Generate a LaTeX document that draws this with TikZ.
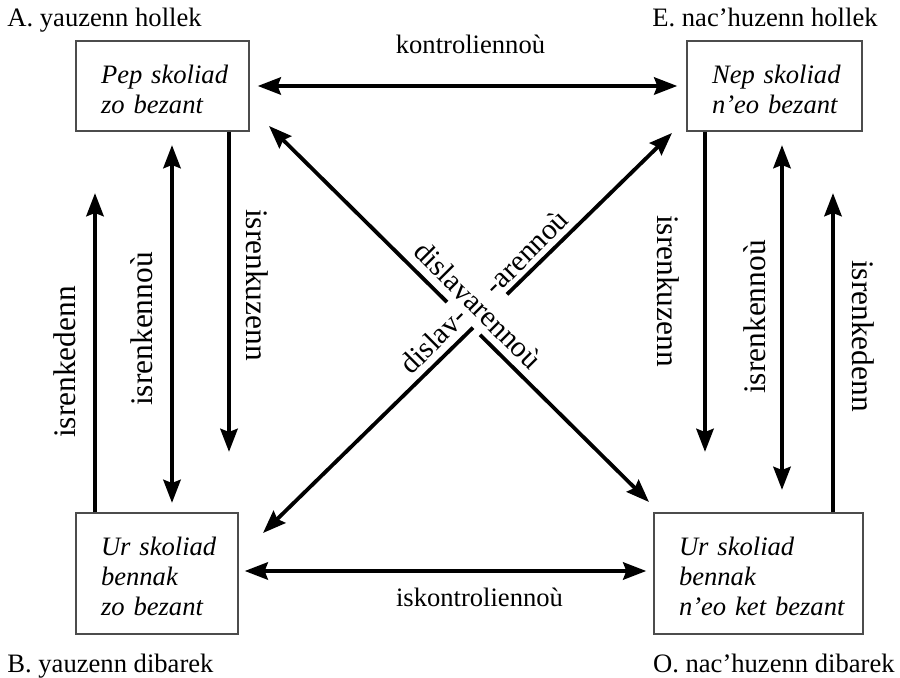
\documentclass[tikz,border=0pt]{standalone}
\usepackage{fontspec}
\setmainfont{Liberation Serif}
\usetikzlibrary{arrows.meta,calc}
\newcommand{\toplift}{\rule{0pt}{12.5pt}}
\begin{document}
\begin{tikzpicture}[x=0.5pt,y=-0.5pt,
  >={Stealth[length=11.5pt,width=8.5pt,inset=1.5pt]},
  box/.style={draw=black!70, line width=0.65pt, align=left, inner xsep=12.5pt, inner ysep=0pt,
    font=\fontsize{13.3}{15}\selectfont\itshape},
  lbl/.style={font=\fontsize{13.3}{15}\selectfont, inner sep=0pt},
  vlbl/.style={font=\fontsize{15.7}{18}\selectfont, inner sep=0pt},
  dlbl/.style={font=\fontsize{14.8}{17}\selectfont, inner sep=0pt},
  thk/.style={line width=2.3pt},
  diag/.style={line width=1.9pt}]
\useasboundingbox (0,0) rectangle (900,678);

% boxes
\node[box, text width=61.5pt, minimum height=45pt] (A) at (162.5,86)
  {\toplift\mbox{Pep skoliad}\\\mbox{zo bezant}};
\node[box, text width=62.5pt, minimum height=45pt] (E) at (774.5,86)
  {\toplift\mbox{Nep skoliad}\\\mbox{n’eo bezant}};
\node[box, text width=56pt, minimum height=60.5pt] (B) at (157,573.5)
  {\toplift\mbox{Ur skoliad}\\\mbox{bennak}\\\mbox{zo bezant}};
\node[box, text width=79.5pt, minimum height=60.5pt] (O) at (758.5,573.5)
  {\toplift\mbox{Ur skoliad}\\\mbox{bennak}\\\mbox{n’eo ket bezant}};

% corner labels
\node[lbl, anchor=base west] (tA) at (7,27) {A. yauzenn hollek};
\node[lbl, anchor=base east] (tE) at (878,27) {E. nac’huzenn hollek};
\node[lbl, anchor=base west] (tB) at (7,672) {B. yauzenn dibarek};
\node[lbl, anchor=base east] (tO) at (895,672) {O. nac’huzenn dibarek};

% horizontal arrows
\draw[thk,<->, shorten <=4pt, shorten >=4.5pt] (A.east) -- (E.west);
\node[lbl, anchor=base] (kon) at (470.5,54) {kontroliennoù};
\coordinate (ik) at (470,571);
\draw[thk,<->, shorten <=3pt, shorten >=3.5pt] (B.east |- ik) -- (O.west |- ik);
\node[lbl, anchor=base] (iskon) at (479.5,606) {iskontroliennoù};

% left vertical arrows
\coordinate (lk) at (95,193);
\draw[thk,->] (B.north -| lk) -- (lk);
\coordinate (ln1) at (172,145);
\coordinate (ln2) at (172,503);
\draw[thk,<->] (ln1) -- (ln2);
\coordinate (lz) at (229,452);
\draw[thk,->] (A.south -| lz) -- (lz);
\node[vlbl, rotate=90] (lkl) at (65,362) {isrenkedenn};
\node[vlbl, rotate=90] (lnl) at (142,329) {isrenkennoù};
\node[vlbl, rotate=-90] (lzl) at (257,285) {isrenkuzenn};

% right vertical arrows
\coordinate (rz) at (705,452);
\draw[thk,->] (E.south -| rz) -- (rz);
\coordinate (rn1) at (782,145);
\coordinate (rn2) at (782,490);
\draw[thk,<->] (rn1) -- (rn2);
\coordinate (rk) at (833,193);
\draw[thk,->] (O.north -| rk) -- (rk);
\node[vlbl, rotate=-90] (rzl) at (668,291) {isrenkuzenn};
\node[vlbl, rotate=90] (rnl) at (755,317) {isrenkennoù};
\node[vlbl, rotate=-90] (rkl) at (863,336) {isrenkedenn};

% diagonals
\coordinate (d1) at (269,126);
\coordinate (d2) at (649,502);
\coordinate (e1) at (672,133);
\coordinate (e2) at (263,533);
\coordinate (dg1) at ($(d1)!0.4684!(d2)$);
\coordinate (dg2) at ($(d1)!0.5553!(d2)$);
\coordinate (eg1) at ($(e1)!0.4034!(e2)$);
\coordinate (eg2) at ($(e1)!0.4866!(e2)$);
\draw[diag,<-] (d1) -- (dg1);
\draw[diag,->] (dg2) -- (d2);
\draw[diag,<-] (e1) -- (eg1);
\draw[diag,->] (eg2) -- (e2);
\node[dlbl, rotate=-45] (dv) at (478,305) {dislavarennoù};
\node[dlbl, rotate=45] (dv1) at (433,340) {dislav-};
\node[dlbl, rotate=45] (dv2) at (526,252) {-arennoù};
\end{tikzpicture}
\end{document}
